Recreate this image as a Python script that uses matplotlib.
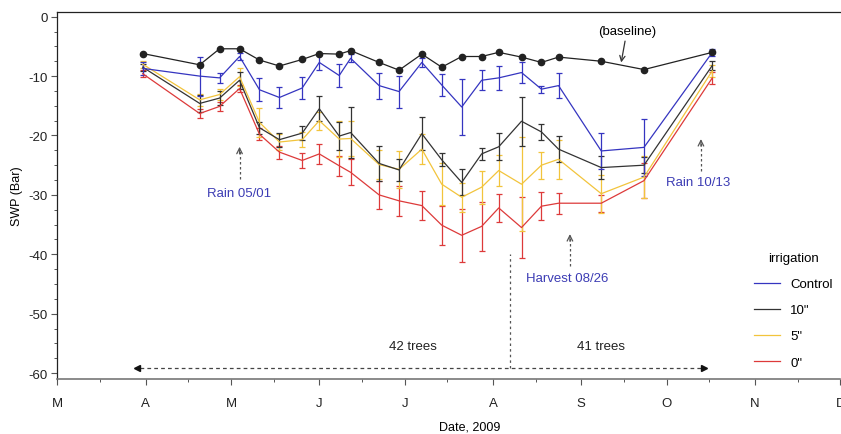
import matplotlib

matplotlib.use("Agg")
import matplotlib.dates as mdates
import matplotlib.pyplot as plt
import numpy as np
from matplotlib.lines import Line2D

plt.rcParams["font.family"] = ["Liberation Sans", "DejaVu Sans"]
plt.rcParams["font.size"] = 9.5
plt.rcParams["axes.unicode_minus"] = False

dates = np.array([
    "2009-03-31", "2009-04-20", "2009-04-27", "2009-05-04", "2009-05-11",
    "2009-05-18", "2009-05-26", "2009-06-01", "2009-06-08", "2009-06-12",
    "2009-06-22", "2009-06-29", "2009-07-07", "2009-07-14", "2009-07-21",
    "2009-07-28", "2009-08-03", "2009-08-11", "2009-08-18", "2009-08-24",
    "2009-09-08", "2009-09-23", "2009-10-17"], dtype="datetime64[D]")

baseline = [-6.2, -8.1, -5.4, -5.4, -7.3, -8.3, -7.2, -6.2, -6.3, -5.7, -7.7, -9.0,
            -6.3, -8.5, -6.7, -6.7, -6.0, -6.8, -7.7, -6.8, -7.5, -8.9, -6.0]

control = [-8.7, -10.0, -10.3, -6.7, -12.3, -13.6, -12.0, -7.7, -9.9, -7.0, -11.6, -12.6,
           -7.7, -11.5, -15.2, -10.7, -10.3, -9.4, -12.2, -11.6, -22.6, -22.0, -6.0]
control_err = [1.1, 3.3, 0.9, 0.6, 1.9, 1.7, 1.9, 1.3, 1.9, 0.7, 2.2, 2.7,
               0.7, 1.9, 4.7, 1.7, 2.0, 1.7, 0.6, 2.1, 3.0, 4.8, 0.6]

ten = [-8.5, -14.6, -13.7, -10.7, -18.7, -20.7, -19.6, -15.5, -20.1, -19.5, -24.7, -25.8,
       -19.7, -24.1, -27.9, -23.1, -21.9, -17.6, -19.4, -22.3, -25.4, -25.0, -8.2]
ten_err = [0.6, 1.4, 1.2, 1.4, 1.0, 1.2, 1.2, 2.1, 2.3, 4.3, 3.0, 1.9,
           2.8, 1.1, 2.2, 1.0, 2.3, 4.1, 1.3, 2.2, 1.9, 1.3, 0.8]

five = [-8.0, -14.0, -13.1, -10.1, -17.8, -21.1, -20.7, -17.5, -20.6, -20.5, -24.9, -25.7,
        -22.3, -28.2, -30.4, -28.7, -25.9, -28.2, -25.0, -24.0, -29.8, -27.0, -9.1]
five_err = [0.6, 1.0, 1.0, 1.5, 2.5, 1.3, 1.3, 1.5, 3.0, 3.0, 2.5, 3.1,
            2.5, 3.5, 2.4, 2.8, 2.6, 7.9, 2.3, 3.3, 3.2, 3.6, 1.0]

zero = [-9.6, -16.3, -15.1, -12.1, -19.8, -22.8, -24.2, -23.1, -25.1, -26.2, -30.0, -31.0,
        -31.8, -35.1, -36.8, -35.3, -32.2, -35.5, -31.9, -31.4, -31.4, -27.6, -10.3]
zero_err = [0.6, 0.7, 0.7, 0.65, 1.0, 1.1, 1.3, 1.7, 1.7, 2.2, 2.3, 2.5,
            2.4, 3.3, 4.5, 4.1, 2.4, 5.1, 2.4, 1.8, 1.4, 3.0, 1.0]

month_starts = np.arange("2009-03", "2010-01", dtype="datetime64[M]").astype("datetime64[D]")
month_labels = ["M", "A", "M", "J", "J", "A", "S", "O", "N", "D"]

BLUE_TXT = "#3c3cb4"


def d(s):
    return mdates.date2num(np.datetime64(s))


def dashed_arrow(ax, x, y0, y1):
    # dashed shaft + small open head pointing up
    ax.plot([d(x), d(x)], [y0, y1 - 0.3], ls=(0, (2, 2)), color="#555555", lw=0.9)
    ax.annotate("", xy=(d(x), y1), xytext=(d(x), y1 - 1.2),
                arrowprops=dict(arrowstyle="->", color="#555555", lw=0.9,
                                mutation_scale=10, shrinkA=0, shrinkB=0))


fig = plt.figure(figsize=(8.41, 4.35), dpi=100)
ax = fig.add_axes([0.0681, 0.1264, 0.9313, 0.843])

series = [("Control", control, control_err, "#3535c0"),
          ('10"', ten, ten_err, "#333333"),
          ('5"', five, five_err, "#f2c43c"),
          ('0"', zero, zero_err, "#dd3a3a")]
for lab, vals, err, col in series[::-1]:
    ax.errorbar(dates, vals, yerr=err, color=col, lw=0.9, elinewidth=0.9,
                capsize=2.5, capthick=0.9)

ax.plot(dates, baseline, color="#222222", lw=0.9, marker="o", ms=4.5, zorder=5)

# annotations
ax.annotate("(baseline)", xy=(d("2009-09-15"), -7.7), xytext=(d("2009-09-17"), -2.4),
            ha="center", va="center", fontsize=9.5,
            arrowprops=dict(arrowstyle="->", color="#333333", lw=0.9, shrinkA=1, shrinkB=0))
ax.text(d("2009-05-04"), -29.7, "Rain 05/01", color=BLUE_TXT, ha="center", va="center")
dashed_arrow(ax, "2009-05-04", -27.3, -21.9)
ax.text(d("2009-10-12"), -27.9, "Rain 10/13", color=BLUE_TXT, ha="center", va="center")
dashed_arrow(ax, "2009-10-13", -25.9, -20.6)
ax.text(d("2009-08-27"), -44.0, "Harvest 08/26", color=BLUE_TXT, ha="center", va="center")
dashed_arrow(ax, "2009-08-28", -41.9, -36.6)

ax.text(d("2009-07-04"), -55.4, "42 trees", ha="center", va="center", color="#222222")
ax.text(d("2009-09-08"), -55.4, "41 trees", ha="center", va="center", color="#222222")
ax.plot([d("2009-03-30"), d("2009-10-13")], [-59.2, -59.2], ls=(0, (3, 2.5)),
        color="#444444", lw=0.9)
ax.plot([d("2009-03-29")], [-59.2], marker="<", color="#111111", ms=4.5)
ax.plot([d("2009-10-14")], [-59.2], marker=">", color="#111111", ms=4.5)
ax.plot([d("2009-08-07"), d("2009-08-07")], [-59.2, -40.0], ls=(0, (2, 2.5)),
        color="#555555", lw=0.9)

# axes styling
ax.set_xlim(d("2009-03-01"), d("2009-12-01"))
ax.set_ylim(-61.0, 0.74)
ax.set_xticks(month_starts)
ax.set_xticklabels(month_labels)
ax.xaxis.set_minor_locator(mdates.DayLocator(bymonthday=16))
ax.set_yticks(np.arange(-60, 1, 10))
ax.set_yticks(np.arange(-60, 0.1, 2.5), minor=True)
ax.tick_params(axis="both", which="major", length=4, width=0.8, colors="#555555",
               labelcolor="#222222", labelsize=9.5)
ax.tick_params(axis="both", which="minor", length=2.5, width=0.7, colors="#555555")
ax.tick_params(axis="x", which="major", pad=9)
ax.tick_params(axis="y", which="major", pad=3)
ax.spines["right"].set_visible(False)
for s in ("top", "left"):
    ax.spines[s].set_color("#222222")
    ax.spines[s].set_linewidth(0.9)
ax.spines["bottom"].set_color("#777777")
ax.spines["bottom"].set_linewidth(1.2)

ax.set_ylabel("SWP (Bar)", fontsize=9)
ax.yaxis.set_label_coords(-0.044, 0.5)
ax.set_xlabel("Date, 2009", fontsize=9)
ax.xaxis.set_label_coords(0.527, -0.112)
ax.xaxis.label.set_va("top")

handles = [Line2D([], [], color=s[3], lw=0.9) for s in series]
ax.legend(handles, [s[0] for s in series], title="irrigation",
          frameon=False, loc="upper left", bbox_to_anchor=(0.8966, 0.418),
          bbox_transform=fig.transFigure, borderpad=0, borderaxespad=0,
          handlelength=2.0, handletextpad=0.75, labelspacing=1.05,
          fontsize=9.5, title_fontsize=9.5)

fig.savefig("out.png", dpi=100)
